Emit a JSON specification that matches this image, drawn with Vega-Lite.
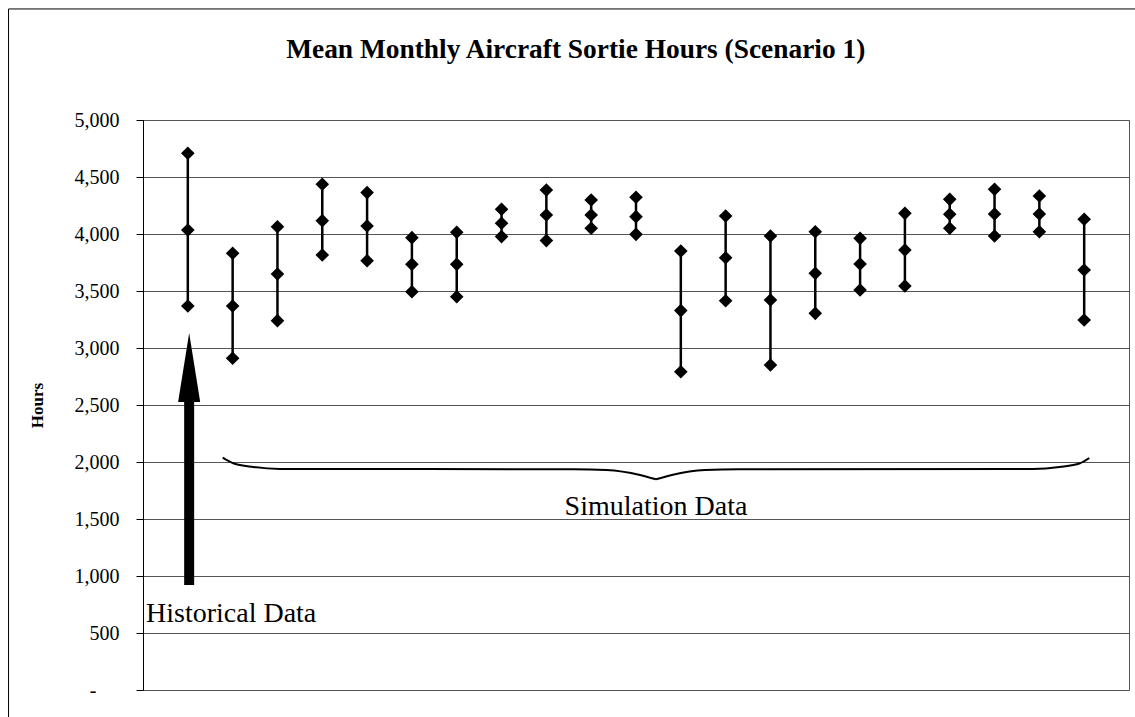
{
  "$schema": "https://vega.github.io/schema/vega-lite/v6.json",
  "width": 986,
  "height": 570,
  "autosize": {"type": "none"},
  "padding": {"left": 143, "top": 120, "right": 6, "bottom": 27},
  "background": "white",
  "title": {
    "text": "Mean Monthly Aircraft Sortie Hours (Scenario 1)",
    "font": "Liberation Serif, Times New Roman, serif",
    "fontSize": 27.4,
    "fontWeight": "bold",
    "color": "black",
    "anchor": "middle",
    "frame": "bounds",
    "offset": -55
  },
  "config": {
    "view": {"stroke": "#555", "strokeWidth": 1},
    "axis": {
      "labelFont": "Liberation Serif, Times New Roman, serif",
      "titleFont": "Liberation Serif, Times New Roman, serif"
    }
  },
  "datasets": {
    "hl": [
      {"m": 1, "high": 4708, "mid": 4035, "low": 3368},
      {"m": 2, "high": 3831, "mid": 3368, "low": 2910},
      {"m": 3, "high": 4064, "mid": 3649, "low": 3240},
      {"m": 4, "high": 4436, "mid": 4117, "low": 3816},
      {"m": 5, "high": 4363, "mid": 4070, "low": 3766},
      {"m": 6, "high": 3968, "mid": 3734, "low": 3494},
      {"m": 7, "high": 4015, "mid": 3734, "low": 3450},
      {"m": 8, "high": 4217, "mid": 4094, "low": 3977},
      {"m": 9, "high": 4386, "mid": 4167, "low": 3942},
      {"m": 10, "high": 4298, "mid": 4167, "low": 4050},
      {"m": 11, "high": 4322, "mid": 4152, "low": 3997},
      {"m": 12, "high": 3851, "mid": 3328, "low": 2792},
      {"m": 13, "high": 4158, "mid": 3792, "low": 3415},
      {"m": 14, "high": 3982, "mid": 3421, "low": 2851},
      {"m": 15, "high": 4020, "mid": 3655, "low": 3304},
      {"m": 16, "high": 3962, "mid": 3737, "low": 3509},
      {"m": 17, "high": 4181, "mid": 3860, "low": 3544},
      {"m": 18, "high": 4304, "mid": 4173, "low": 4050},
      {"m": 19, "high": 4392, "mid": 4175, "low": 3982},
      {"m": 20, "high": 4333, "mid": 4175, "low": 4020},
      {"m": 21, "high": 4129, "mid": 3684, "low": 3246}
    ],
    "brace": [
      {"bx": 1.778, "by": 2038, "p": "L"},
      {"bx": 2.015, "by": 1989, "p": "L"},
      {"bx": 2.461, "by": 1956, "p": "L"},
      {"bx": 3.057, "by": 1939, "p": "L"},
      {"bx": 9.6, "by": 1937, "p": "L"},
      {"bx": 10.34, "by": 1930, "p": "L"},
      {"bx": 11.09, "by": 1886, "p": "L"},
      {"bx": 11.446, "by": 1848, "p": "L"},
      {"bx": 11.446, "by": 1848, "p": "R"},
      {"bx": 11.8, "by": 1886, "p": "R"},
      {"bx": 12.54, "by": 1930, "p": "R"},
      {"bx": 13.3, "by": 1937, "p": "R"},
      {"bx": 19.857, "by": 1939, "p": "R"},
      {"bx": 20.45, "by": 1956, "p": "R"},
      {"bx": 20.906, "by": 1989, "p": "R"},
      {"bx": 21.114, "by": 2035, "p": "R"}
    ],
    "arrow": [
      {"ax": 1.03, "y0": 921, "y1": 2830}
    ],
    "labels": [
      {"tx": 0.067, "ty": 599, "t": "Historical Data"},
      {"tx": 11.446, "ty": 1535, "t": "Simulation Data"}
    ],
    "frame": [
      {"fx": -3.0, "fx2": 22.31, "fy": 5974, "fy2": -1200}
    ]
  },
  "layer": [
    {
      "data": {"name": "frame"},
      "mark": {"type": "rect", "fill": "white", "fillOpacity": 0, "stroke": "black", "strokeWidth": 1},
      "encoding": {
        "x": {"field": "fx", "type": "quantitative", "scale": {"domain": [0, 22], "nice": false, "zero": false}, "axis": null},
        "x2": {"field": "fx2"},
        "y": {"field": "fy", "type": "quantitative", "scale": {"domain": [0, 5000], "nice": false}},
        "y2": {"field": "fy2"}
      }
    },
    {
      "data": {"name": "hl"},
      "mark": {"type": "rule", "color": "black", "strokeWidth": 2.5},
      "encoding": {
        "x": {"field": "m", "type": "quantitative", "scale": {"domain": [0, 22], "nice": false, "zero": false}, "axis": null},
        "y": {
          "field": "low",
          "type": "quantitative",
          "scale": {"domain": [0, 5000], "nice": false},
          "axis": {
            "title": "Hours",
            "titleFontSize": 17,
            "titleFontWeight": "bold",
            "titleColor": "black",
            "titlePadding": 28,
            "values": [0, 500, 1000, 1500, 2000, 2500, 3000, 3500, 4000, 4500, 5000],
            "labelExpr": "datum.value == 0 ? '-' : format(datum.value, ',')",
            "labelFontSize": 20,
            "labelColor": "black",
            "labelPadding": {"condition": {"test": "datum.value == 0", "value": 40}, "value": 17},
            "tickSize": 7,
            "tickColor": "black",
            "domainColor": "black",
            "grid": true,
            "gridColor": "#555",
            "gridWidth": 1
          }
        },
        "y2": {"field": "high"}
      }
    },
    {
      "data": {"name": "hl"},
      "transform": [{"fold": ["low", "mid", "high"], "as": ["k", "v"]}],
      "mark": {"type": "point", "shape": "diamond", "filled": true, "color": "black", "opacity": 1, "size": 185},
      "encoding": {
        "x": {"field": "m", "type": "quantitative"},
        "y": {"field": "v", "type": "quantitative"}
      }
    },
    {
      "data": {"name": "brace"},
      "mark": {"type": "line", "color": "black", "strokeWidth": 2, "interpolate": "monotone"},
      "encoding": {
        "x": {"field": "bx", "type": "quantitative"},
        "y": {"field": "by", "type": "quantitative"},
        "detail": {"field": "p"}
      }
    },
    {
      "data": {"name": "arrow"},
      "mark": {"type": "rule", "color": "black", "strokeWidth": 10, "strokeCap": "butt"},
      "encoding": {
        "x": {"field": "ax", "type": "quantitative"},
        "y": {"field": "y0", "type": "quantitative"},
        "y2": {"field": "y1"}
      }
    },
    {
      "data": {"name": "arrow"},
      "mark": {"type": "point", "shape": "M0,-1L0.32,1L-0.32,1Z", "filled": true, "color": "black", "opacity": 1, "size": 4761},
      "encoding": {
        "x": {"field": "ax", "type": "quantitative"},
        "y": {"field": "y1", "type": "quantitative"}
      }
    },
    {
      "data": {"name": "labels"},
      "transform": [{"filter": "datum.t == 'Historical Data'"}],
      "mark": {"type": "text", "font": "Liberation Serif, Times New Roman, serif", "fontSize": 28, "color": "black", "baseline": "alphabetic", "align": "left"},
      "encoding": {
        "x": {"field": "tx", "type": "quantitative"},
        "y": {"field": "ty", "type": "quantitative"},
        "text": {"field": "t"}
      }
    },
    {
      "data": {"name": "labels"},
      "transform": [{"filter": "datum.t == 'Simulation Data'"}],
      "mark": {"type": "text", "font": "Liberation Serif, Times New Roman, serif", "fontSize": 28, "color": "black", "baseline": "alphabetic", "align": "center"},
      "encoding": {
        "x": {"field": "tx", "type": "quantitative"},
        "y": {"field": "ty", "type": "quantitative"},
        "text": {"field": "t"}
      }
    }
  ]
}
